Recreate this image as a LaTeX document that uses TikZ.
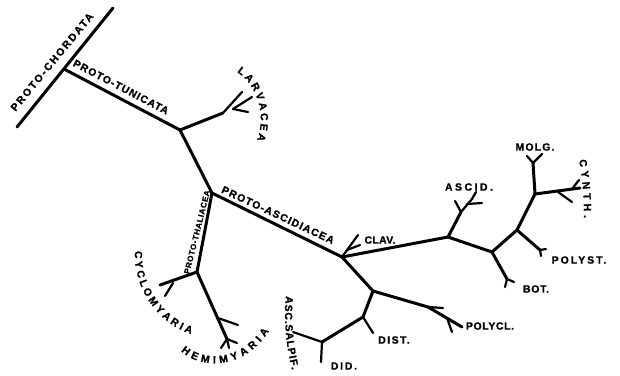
\documentclass[tikz,border=0pt]{standalone}
\usepackage{fontspec}
\newfontfamily\lblfont{Liberation Sans}[BoldFeatures={FakeBold=1.2}]
\usetikzlibrary{decorations.text}

\begin{document}
\begin{tikzpicture}[x=1bp, y=-1bp,
  branch/.style={line width=3bp, line cap=round, line join=round},
  twig/.style={line width=2.2bp, line cap=round},
  lbl/.style={inner sep=0pt, font={\fontsize{10.5}{10.5}\lblfont\bfseries\addfontfeature{LetterSpace=#1}}},
  lbl/.default=10,
  thin/.style={inner sep=0pt, font={\fontsize{8}{8}\lblfont\bfseries\addfontfeature{LetterSpace=8}}},
  curved/.style={decorate, decoration={text along path, text align=fit to path,
    text={|\fontsize{10.5}{10.5}\lblfont\bfseries|#1}}}
]
  \useasboundingbox (0,0) rectangle (620,375);

  % stems
  \coordinate (ch1) at (17,127);  \coordinate (ch2) at (113,8);
  \coordinate (pc) at (64,69);    \coordinate (tu) at (180,130);
  \coordinate (pa) at (212,193);  \coordinate (th) at (197,272);
  \coordinate (ca) at (342,257);  \coordinate (fa) at (448,237);
  \coordinate (ga) at (492,252);  \coordinate (ha) at (517,230);
  \coordinate (ia) at (535,194);  \coordinate (da) at (373,291);
  \coordinate (db) at (363,317);  \coordinate (ea) at (322,342);
  % twigs
  \coordinate (lv) at (223,113);  \coordinate (lv1) at (242,92);
  \coordinate (lva) at (233,109); \coordinate (lv2) at (252,97);
  \coordinate (lv3) at (248,112);
  \coordinate (cy) at (160,285);  \coordinate (cya) at (173,283);
  \coordinate (cy2) at (165,296);
  \coordinate (hm) at (227,339);  \coordinate (hma) at (218,318);
  \coordinate (hmb) at (238,325); \coordinate (hm1) at (221,348);
  \coordinate (hm2) at (229,348); \coordinate (hm3) at (237,343);
  \coordinate (cl1) at (358,235); \coordinate (cla) at (347,250);
  \coordinate (cl2) at (360,245);
  \coordinate (as) at (461,212);  \coordinate (as1) at (455,201);
  \coordinate (as2) at (472,199); \coordinate (asa) at (467,204);
  \coordinate (as3) at (482,203); \coordinate (as4) at (476,192);
  \coordinate (bo) at (507,279);  \coordinate (bo1) at (505,287);
  \coordinate (bo2) at (514,282);
  \coordinate (ps) at (540,250);  \coordinate (ps1) at (546,249);
  \coordinate (ps2) at (541,256);
  \coordinate (mo) at (533,163);  \coordinate (mo1) at (527,156);
  \coordinate (mo2) at (542,154);
  \coordinate (cn) at (580,188);  \coordinate (cna) at (558,192);
  \coordinate (cn1) at (572,202); \coordinate (cnb) at (572,189);
  \coordinate (cn2) at (579,180);
  \coordinate (pl) at (462,327);  \coordinate (pla) at (428,307);
  \coordinate (pl1) at (443,308); \coordinate (plb) at (447,318);
  \coordinate (pl2) at (452,332);
  \coordinate (ds) at (373,333);  \coordinate (sa) at (293,332);
  \coordinate (di) at (321,362);

  \draw[branch] (ch1) -- (ch2);
  \draw[branch] (pc) -- (tu) -- (pa) -- (ca) -- (fa) -- (ga) -- (ha) -- (ia);
  \draw[branch] (pa) -- (th) -- (hm);
  \draw[branch] (ca) -- (da) -- (db) -- (ea);
  \draw[branch] (tu) -- (lv);
  \draw[branch] (th) -- (cy);
  \draw[branch] (da) -- (pla) -- (pl);
  \draw[branch] (ga) -- (bo);
  \draw[branch] (ha) -- (ps);
  \draw[branch] (ia) -- (mo);
  \draw[branch] (ia) -- (cn);
  \draw[branch] (fa) -- (as);

  \draw[twig] (lv) -- (lv1);  \draw[twig] (lva) -- (lv2);  \draw[twig] (lva) -- (lv3);
  \draw[twig] (cya) -- (cy2);
  \draw[twig] (hma) -- (hmb); \draw[twig] (hm) -- (hm1);
  \draw[twig] (hm) -- (hm2);  \draw[twig] (hm) -- (hm3);
  \draw[twig] (ca) -- (cl1);  \draw[twig] (cla) -- (cl2);
  \draw[twig] (as) -- (as1);  \draw[twig] (as) -- (as2);
  \draw[twig] (asa) -- (as3); \draw[twig] (as2) -- (as4);
  \draw[twig] (bo) -- (bo1);  \draw[twig] (bo) -- (bo2);
  \draw[twig] (ps) -- (ps1);  \draw[twig] (ps) -- (ps2);
  \draw[twig] (mo) -- (mo1);  \draw[twig] (mo) -- (mo2);
  \draw[twig] (cna) -- (cn1); \draw[twig] (cnb) -- (cn2);
  \draw[twig] (pla) -- (pl1); \draw[twig] (plb) -- (pl2);
  \draw[twig] (db) -- (ds);   \draw[twig] (ea) -- (sa);
  \draw[twig] (ea) -- (di);

  % straight names
  \node[lbl=18, rotate=50.5] (chord) at (52,62) {PROTO-CHORDATA};
  \node[lbl=10, rotate=-27.6] (tunic) at (121,87) {PROTO-TUNICATA};
  \node[lbl=11, rotate=-25] (ascidi) at (278,215) {PROTO-ASCIDIACEA};
  \node[thin, rotate=76] (thali) at (197,232) {PROTO-THALIACEA};
  \node[lbl=3] (clav) at (380,240) {CLAV.};
  \node[lbl=24] (ascid) at (469,187) {ASCID.};
  \node[lbl=11] (molg) at (535,147) {MOLG.};
  \node[lbl=19] (polyst) at (579,260) {POLYST.};
  \node[lbl=7] (bot) at (536,289) {BOT.};
  \node[lbl=6] (polycl) at (490,326) {POLYCL.};
  \node[lbl=14] (dist) at (394,340) {DIST.};
  \node[lbl=17] (did) at (344,366) {DID.};

  % curved names
  \path[curved=LARVACEA] (237,72) .. controls (256,84) and (267,114) .. (257,140);
  \path[curved=CYCLOMYARIA] (135,251) .. controls (133,285) and (155,322) .. (191,334);
  \path[curved=HEMIMYARIA] (181,351) .. controls (200,369) and (243,371) .. (269,331);
  \path[curved=ASC.SALPIF.] (286,296) .. controls (283,320) and (287,350) .. (292,370);
  \path[curved=CYNTH.] (579,160) .. controls (583,180) and (584,200) .. (584,218);
\end{tikzpicture}
\end{document}
